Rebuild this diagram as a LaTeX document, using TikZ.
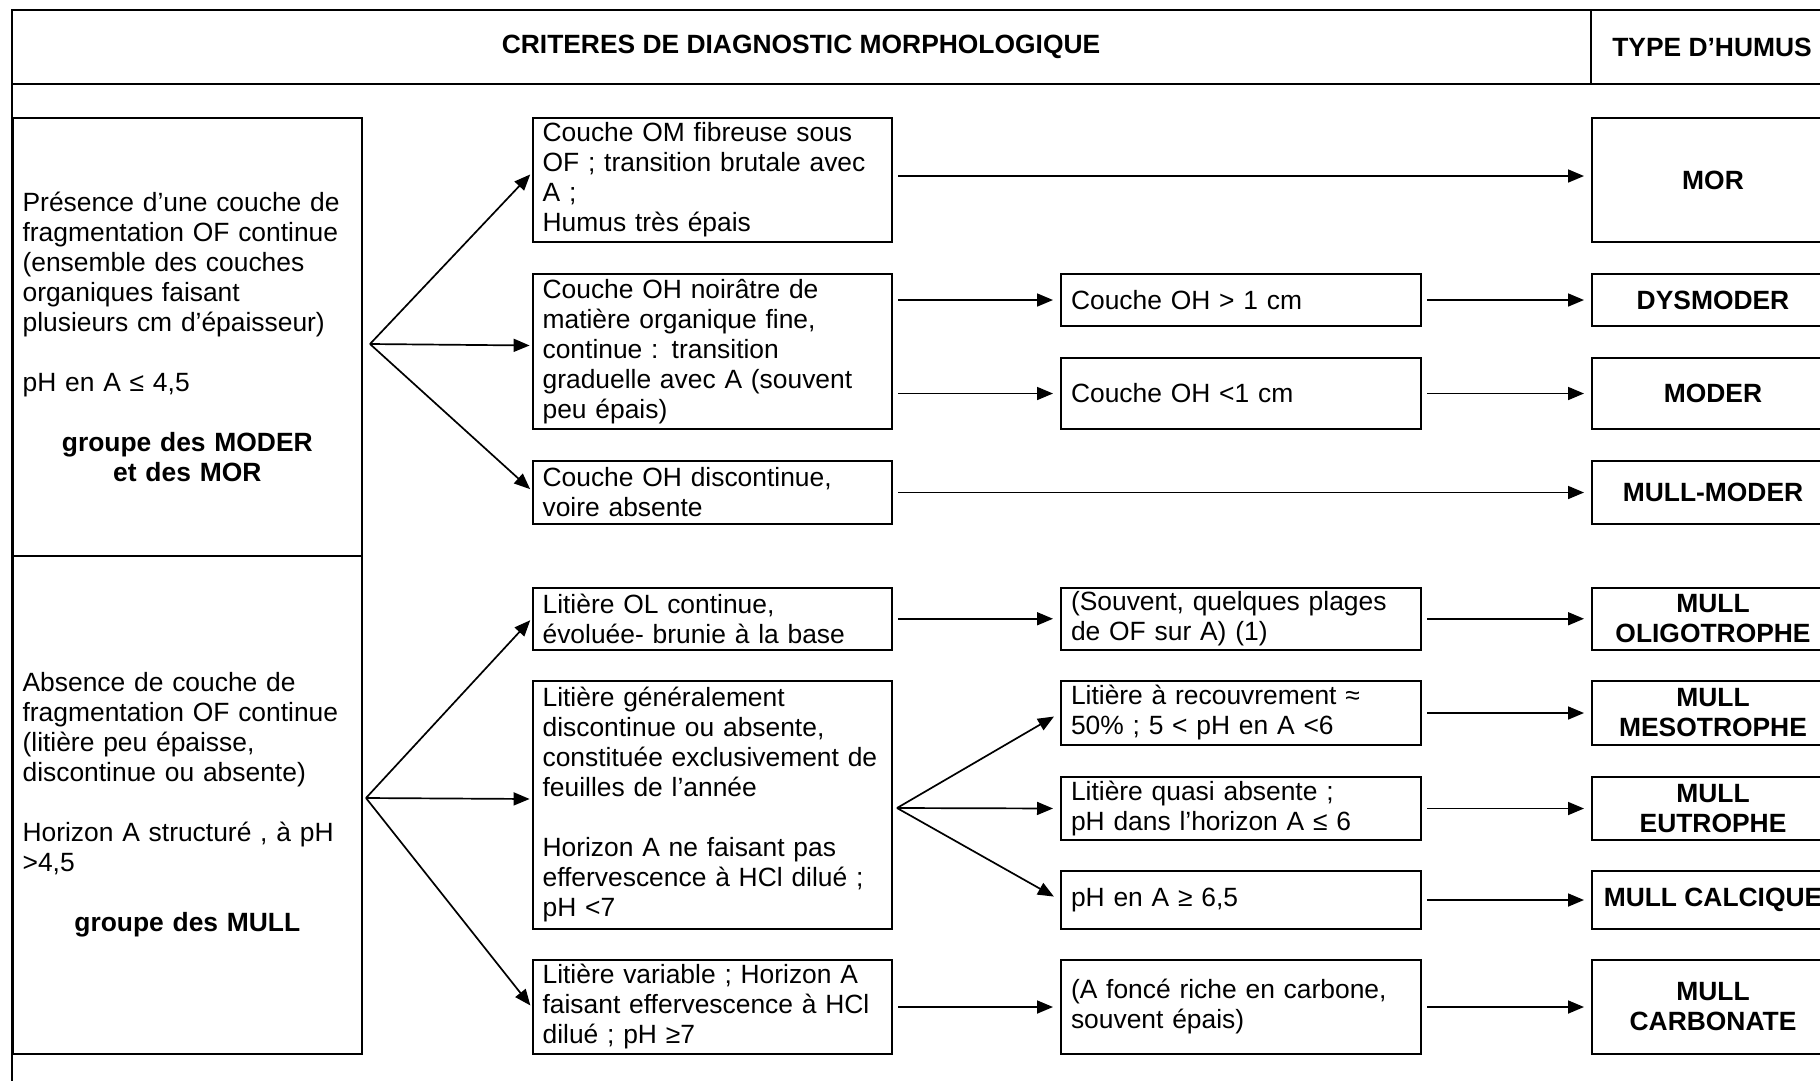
\documentclass[tikz,border=0pt]{standalone}
\usepackage{fontspec}
\setmainfont{Liberation Sans}
\usetikzlibrary{arrows.meta,calc}
\begin{document}
\begin{tikzpicture}[x=1pt,y=-1pt,
  frame/.style={line width=2.2pt},
  box/.style={draw, line width=2pt, anchor=north west, inner xsep=10pt, inner ysep=0pt,
              align=left, font=\fontsize{26.4}{30}\selectfont},
  res/.style={draw, line width=2pt, anchor=north west, inner sep=0pt, minimum width=242pt,
              align=center, font=\fontsize{26.4}{30}\selectfont\bfseries},
  head/.style={font=\fontsize{26.4}{30}\selectfont\bfseries, inner sep=0pt},
  arr/.style={line width=1.7pt, -{Triangle[length=16pt,width=13pt]}},
  harr/.style={arr, shorten <=5pt, shorten >=7pt},
]
\useasboundingbox (0,0) rectangle (1820,1080);
\clip (0,0) rectangle (1820,1080);

% table frame
\draw[frame] (11.6,1100) -- (11.6,10) -- (1840,10);
\draw[frame] (11.6,84) -- (1840,84);
\draw[line width=1.6pt] (1591,10) -- (1591,84);
\node[head] (title) at (801,47) {CRITERES DE DIAGNOSTIC MORPHOLOGIQUE};
\node[head] (typ) at (1712,47) {TYPE D’HUMUS};

% left group boxes
\node[box, text width=329.4pt, minimum height=437.5pt] (lt) at (11.6,117)
 {Présence d’une couche de\\ fragmentation OF continue\\ (ensemble des couches\\ organiques faisant\\ plusieurs cm d’épaisseur)\\[30pt]
  pH en A ≤ 4,5\\[30pt]
  \makebox[329.4pt]{\bfseries groupe des MODER}\\ \makebox[329.4pt]{\bfseries et des MOR}};
\node[box, text width=329.4pt, minimum height=498.5pt] (lb) at (11.6,554.5)
 {Absence de couche de\\ fragmentation OF continue\\ (litière peu épaisse,\\ discontinue ou absente)\\[30pt]
  Horizon A structuré , à pH\\ >4,5\\[30pt]
  \makebox[329.4pt]{\bfseries groupe des MULL}};

% criteria column 1
\node[box, text width=339.4pt, minimum height=124pt] (b1) at (531.6,117)
 {Couche OM fibreuse sous\\ OF ; transition brutale avec\\ A ;\\ Humus très épais};
\node[box, text width=339.4pt, minimum height=155pt] (b2) at (531.6,273)
 {Couche OH noirâtre de\\ matière organique fine,\\ continue : transition\\ graduelle avec A (souvent\\ peu épais)};
\node[box, text width=339.4pt, minimum height=63pt] (b3) at (531.6,460)
 {Couche OH discontinue,\\ voire absente};
\node[box, text width=339.4pt, minimum height=62.5pt] (l1) at (531.6,586.5)
 {Litière OL continue,\\ évoluée- brunie à la base};
\node[box, text width=339.4pt, minimum height=248pt] (l2) at (531.6,680)
 {Litière généralement\\ discontinue ou absente,\\ constituée exclusivement de\\ feuilles de l’année\\[30pt]
  Horizon A ne faisant pas\\ effervescence à HCl dilué ;\\ pH <7};
\node[box, text width=339.4pt, minimum height=94pt] (l3) at (531.6,959)
 {Litière variable ; Horizon A\\ faisant effervescence à HCl\\ dilué ; pH ≥7};

% criteria column 2
\node[box, text width=340pt, minimum height=52pt] (ohgt) at (1060,273) {Couche OH > 1 cm};
\node[box, text width=340pt, minimum height=71pt] (ohlt) at (1060,357) {Couche OH <1 cm};
\node[box, text width=340pt, minimum height=62.5pt] (souv) at (1060,586.5)
 {(Souvent, quelques plages\\ de OF sur A) (1)};
\node[box, text width=340pt, minimum height=64pt] (rec) at (1060,680)
 {Litière à recouvrement ≈\\ 50\% ; 5 < pH en A <6};
\node[box, text width=340pt, minimum height=63pt] (quasi) at (1060,776)
 {Litière quasi absente ;\\ pH dans l’horizon A ≤ 6};
\node[box, text width=340pt, minimum height=58pt] (ph) at (1060,870) {pH en A ≥ 6,5};
\node[box, text width=340pt, minimum height=94pt] (fonce) at (1060,959)
 {(A foncé riche en carbone,\\ souvent épais)};

% humus types
\node[res, minimum height=124pt] (mor) at (1591,117) {MOR};
\node[res, minimum height=52pt] (dys) at (1591,273) {DYSMODER};
\node[res, minimum height=71pt] (mod) at (1591,357) {MODER};
\node[res, minimum height=63pt] (mm) at (1591,460) {MULL-MODER};
\node[res, minimum height=62.5pt] (oli) at (1591,586.5) {MULL\\ OLIGOTROPHE};
\node[res, minimum height=64pt] (meso) at (1591,680) {MULL\\ MESOTROPHE};
\node[res, minimum height=63pt] (eutro) at (1591,776) {MULL\\ EUTROPHE};
\node[res, minimum height=58pt] (calc) at (1591,870) {MULL CALCIQUE};
\node[res, minimum height=94pt] (carb) at (1591,959) {MULL\\ CARBONATE};

% fans
\coordinate (f1) at (370,344);
\coordinate (f2) at (366,798);
\coordinate (f3) at (897,808);
\draw[arr, shorten >=2pt] (f1) -- ([yshift=7pt]b1.west);
\draw[arr, shorten >=2pt] (f1) -- ([yshift=6pt]b2.west);
\draw[arr, shorten >=2pt] (f1) -- ([yshift=2pt]b3.west);
\draw[arr, shorten >=2pt] (f2) -- (l1.west);
\draw[arr, shorten >=2pt] (f2) -- ([yshift=6pt]l2.west);
\draw[arr, shorten >=2pt] (f2) -- (l3.west);
\draw[arr, shorten >=7pt] (f3) -- (rec.west);
\draw[arr, shorten >=7pt] (f3) -- (quasi.west);
\draw[arr, shorten >=7pt] (f3) -- (ph.west);

% horizontal arrows
\draw[harr] ([yshift=4pt]b1.east) -- ([yshift=4pt]mor.west);
\draw[harr] (b2.east |- ohgt.west) -- (ohgt.west);
\draw[harr] (b2.east |- ohlt.west) -- (ohlt.west);
\draw[harr] (ohgt.east) -- (dys.west);
\draw[harr] (ohlt.east) -- (mod.west);
\draw[harr] (b3.east) -- (mm.west);
\draw[harr] (l1.east) -- (souv.west);
\draw[harr] (souv.east) -- (oli.west);
\draw[harr] (rec.east) -- (meso.west);
\draw[harr] (quasi.east) -- (eutro.west);
\draw[harr] (ph.east) -- (calc.west);
\draw[harr] (l3.east) -- (fonce.west);
\draw[harr] (fonce.east) -- (carb.west);
\end{tikzpicture}
\end{document}
